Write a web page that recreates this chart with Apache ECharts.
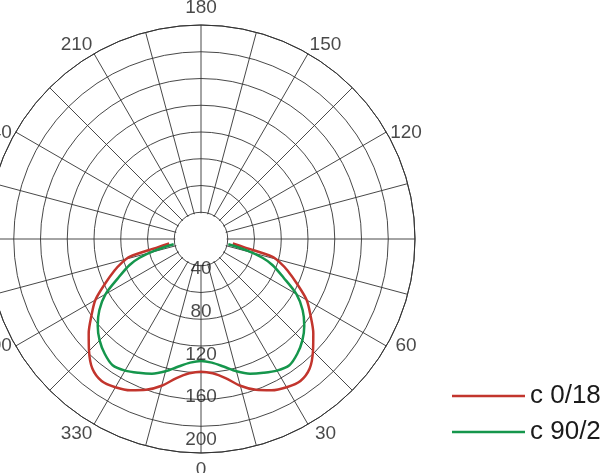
<!DOCTYPE html>
<html>
<head>
<meta charset="utf-8">
<script src="https://cdn.jsdelivr.net/npm/echarts@6/dist/echarts.min.js"></script>
<style>
html,body{margin:0;padding:0;background:#fff;}
#c{width:600px;height:473px;}
</style>
</head>
<body>
<div id="c"></div>
<script>
// Angles (degrees from 0 at bottom, measured toward the right side); curves are mirrored for the left side
const curveAngles = [0, 5, 10, 15, 20, 25, 30, 35, 40, 45, 50, 55, 60, 65, 70, 73, 76, 79, 82];
const redValues   = [124, 126, 132, 142, 150, 156, 160, 162, 158, 148, 137, 125, 114, 99, 86, 78, 69, 42, 30];
const greenValues = [114, 116, 121, 128, 134, 138, 142, 144, 140, 134, 126, 116, 103, 85, 71, 60, 44, 26, null];
const seriesNames = ['c 0/180', 'c 90/270'];
const radialLabels = [40, 80, 120, 160, 200];
const angleLabels = [0, 30, 60, 120, 150, 180, 210, 240, 300, 330];
const innerBlankRadius = 24;

function mirror(values) {
  const pts = [];
  for (let i = curveAngles.length - 1; i >= 1; i--) {
    if (values[i] != null) pts.push([values[i], 360 - curveAngles[i]]);
  }
  for (let i = 0; i < curveAngles.length; i++) {
    if (values[i] != null) pts.push([values[i], curveAngles[i]]);
  }
  return pts;
}

const chart = echarts.init(document.getElementById('c'), null, {renderer: 'canvas'});
const font = '"Liberation Sans", Arial, sans-serif';
const hiddenAxis = {
  axisLine: {show: false}, axisTick: {show: false},
  axisLabel: {show: false}, splitLine: {show: false}
};
// labels lean slightly toward the horizontal, as in the original diagram
const labelLean = a => a + 3 * Math.sin(2 * a * Math.PI / 180);

chart.setOption({
  animation: false,
  backgroundColor: '#ffffff',
  polar: [
    {center: [201, 239], radius: 214},
    {center: [201, 239], radius: 231}   // ring on which the angle labels sit
  ],
  angleAxis: [
    {
      polarIndex: 0, type: 'value', min: 0, max: 360, interval: 15,
      startAngle: 270, clockwise: false, z: 0,
      axisLine: {show: true, lineStyle: {color: '#333', width: 1}},
      axisTick: {show: false},
      splitLine: {show: true, lineStyle: {color: '#333', width: 0.9}},
      axisLabel: {show: false}
    },
    Object.assign({polarIndex: 1, type: 'value', min: 0, max: 360, startAngle: 270, clockwise: false}, hiddenAxis)
  ],
  radiusAxis: [
    {
      polarIndex: 0, type: 'value', min: 0, max: 200, interval: 25, z: 0,
      axisLine: {show: false}, axisTick: {show: false}, axisLabel: {show: false},
      splitLine: {show: true, lineStyle: {color: '#333', width: 0.9}}
    },
    Object.assign({polarIndex: 1, type: 'value', min: 0, max: 1}, hiddenAxis)
  ],
  legend: {
    orient: 'vertical', left: 447, top: 378,
    itemWidth: 73, itemHeight: 2.5, itemGap: 10,
    icon: 'rect',
    data: seriesNames,
    textStyle: {fontSize: 26, fontFamily: font, color: '#1a1a1a'}
  },
  series: [
    {
      name: seriesNames[0], type: 'line', coordinateSystem: 'polar', polarIndex: 0,
      data: mirror(redValues), symbol: 'none', smooth: 0.3,
      lineStyle: {color: '#c2352d', width: 2.5}, itemStyle: {color: '#c2352d'}, z: 5
    },
    {
      name: seriesNames[1], type: 'line', coordinateSystem: 'polar', polarIndex: 0,
      data: mirror(greenValues), symbol: 'none', smooth: 0.3,
      lineStyle: {color: '#15964c', width: 2.5}, itemStyle: {color: '#15964c'}, z: 5
    },
    {
      name: 'radialLabels', type: 'scatter', coordinateSystem: 'polar', polarIndex: 0,
      data: radialLabels.map(v => [v, 0]), symbolSize: 0, silent: true,
      label: {
        show: true, position: 'inside', offset: [0, -13],
        formatter: p => String(p.value[0]),
        fontSize: 19, fontFamily: font, color: '#1a1a1a'
      }, z: 6
    },
    {
      name: 'angleLabels', type: 'scatter', coordinateSystem: 'polar', polarIndex: 1,
      data: angleLabels.map(a => ({name: String(a), value: [1, labelLean(a)]})),
      symbolSize: 0, silent: true,
      label: {
        show: true, position: 'inside',
        formatter: p => p.name,
        fontSize: 19, fontFamily: font, color: '#1a1a1a'
      }, z: 6
    }
  ]
});

// white inner disk (blank centre of the photometric grid), sized through the polar scale
const c0 = chart.convertToPixel({polarIndex: 0}, [0, 0]);
const c1 = chart.convertToPixel({polarIndex: 0}, [innerBlankRadius, 0]);
const rPx = Math.hypot(c1[0] - c0[0], c1[1] - c0[1]);
chart.setOption({
  graphic: [{
    type: 'circle', shape: {cx: c0[0], cy: c0[1], r: rPx},
    style: {fill: '#ffffff', stroke: null}, z: 1, silent: true
  }]
});
</script>
</body>
</html>
